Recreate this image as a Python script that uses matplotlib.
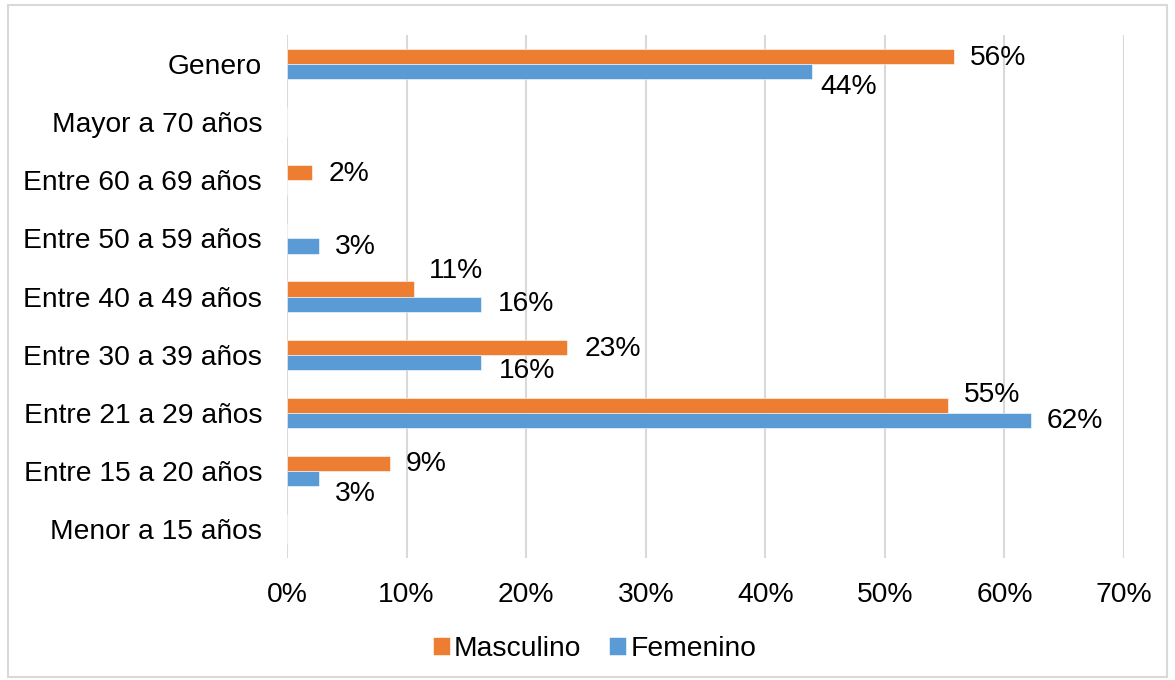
import matplotlib.pyplot as plt
from matplotlib.patches import Rectangle

plt.rcParams['font.family'] = ['Liberation Sans', 'DejaVu Sans']

# categories, bottom to top
categorias = ['Menor a 15 años', 'Entre 15 a 20 años', 'Entre 21 a 29 años',
              'Entre 30 a 39 años', 'Entre 40 a 49 años', 'Entre 50 a 59 años',
              'Entre 60 a 69 años', 'Mayor a 70 años', 'Genero']
masculino = [0, 8.6, 55.3, 23.4, 10.6, 0, 2.1, 0, 55.8]
femenino = [0, 2.7, 62.2, 16.2, 16.2, 2.7, 0, 0, 43.9]
ticks_x = [0, 10, 20, 30, 40, 50, 60, 70]

# label offsets (pixels) as placed in the original
off_m = [(0, 0), (16, -1), (16, 10), (18, -2), (15, 18), (0, 0), (16, -1), (0, 0), (16, -1)]
off_f = [(0, 0), (16, -16), (16, -1), (18, -9), (17, 0), (16, -1), (0, 0), (0, 0), (8, -15)]

naranja = '#ED7D31'
azul = '#5B9BD5'

fig = plt.figure(figsize=(11.75, 6.8), dpi=100)
ax = fig.add_axes([0.2443, 0.1794, 0.7123, 0.7691])

h = 0.26
y = list(range(len(categorias)))
ax.barh([v + h / 2 for v in y], masculino, height=h, color=naranja, label='Masculino',
        edgecolor='white', linewidth=0.4, zorder=3)
ax.barh([v - h / 2 for v in y], femenino, height=h, color=azul, label='Femenino',
        edgecolor='white', linewidth=0.4, zorder=3)

for i in y:
    if masculino[i] > 0:
        ax.annotate('%d%%' % round(masculino[i]), (masculino[i], i + h / 2),
                    xytext=off_m[i], textcoords='offset pixels',
                    ha='left', va='center', fontsize=20.3)
    if femenino[i] > 0:
        ax.annotate('%d%%' % round(femenino[i]), (femenino[i], i - h / 2),
                    xytext=off_f[i], textcoords='offset pixels',
                    ha='left', va='center', fontsize=20.3)

ax.set_xlim(0, 70)
ax.set_ylim(-0.5, len(categorias) - 0.5)
ax.set_xticks(ticks_x)
ax.set_xticklabels(['%d%%' % t for t in ticks_x], fontsize=20.3)
ax.set_yticks(y)
ax.set_yticklabels(categorias, fontsize=20.3)
ax.tick_params(axis='both', length=0)
ax.tick_params(axis='y', pad=18)
ax.tick_params(axis='x', pad=17)
ax.grid(axis='x', color='#D9D9D9', linewidth=1.5, zorder=0)
for s in ax.spines.values():
    s.set_visible(False)

fig.legend(loc='center', bbox_to_anchor=(0.506, 0.046), ncol=2, frameon=False,
           fontsize=20.3, handlelength=0.6, handleheight=0.6, handletextpad=0.15,
           columnspacing=1.0)

fig.patches.append(Rectangle((0.007, 0.004), 0.986, 0.988, transform=fig.transFigure,
                             fill=False, edgecolor='#D9D9D9', linewidth=1.5))

fig.savefig('out.png', dpi=100)
